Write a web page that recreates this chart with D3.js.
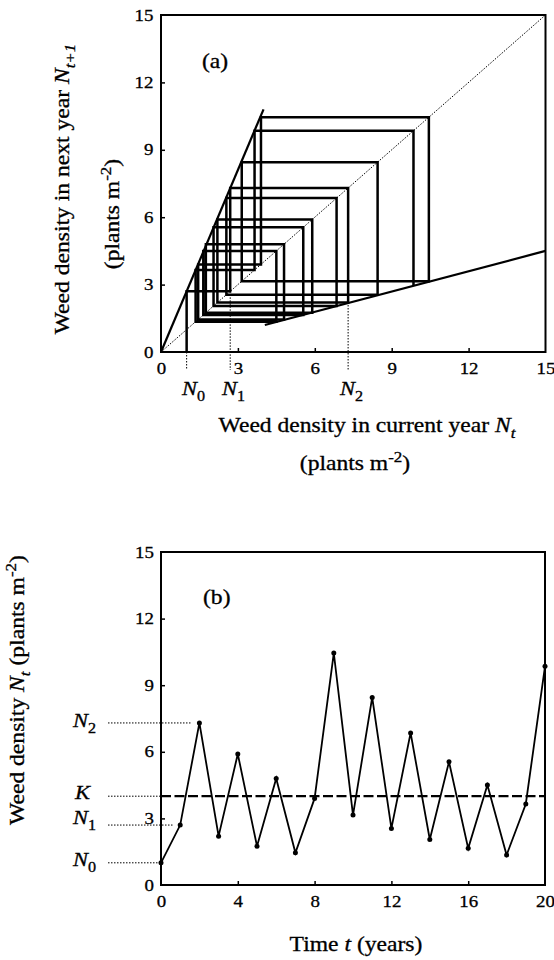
<!DOCTYPE html>
<html>
<head>
<meta charset="utf-8">
<script src="https://cdn.jsdelivr.net/npm/d3@7"></script>
<style>
  body { margin: 0; background: #fff; }
  text { font-family: "Liberation Serif", "Times New Roman", serif; fill: #000; stroke: #000; stroke-width: 0.3px; }
</style>
</head>
<body>
<div id="chart"></div>
<script>
// weed density series
const years = [0, 1, 2, 3, 4, 5, 6, 7, 8, 9, 10, 11, 12, 13, 14, 15, 16, 17, 18, 19, 20]
const density = [1.0, 2.7, 7.3, 2.2, 5.9, 1.75, 4.8, 1.45, 3.9, 10.45, 3.15, 8.45, 2.55, 6.85, 2.05, 5.55, 1.65, 4.5, 1.35, 3.65, 9.85]
const lastNext = 2.96          // where the cobweb drops after year 20
const carryingK = 4
// the two branches of the map N(t) -> N(t+1)
const leftBranch = [[0, 0], [4.0, 10.8]]
const rightBranch = [[4.05, 1.2], [15, 4.5]]
const ticksA = [0, 3, 6, 9, 12, 15]
const ticksBX = [0, 4, 8, 12, 16, 20]
const ticksBY = [0, 3, 6, 9, 12, 15]

const W = 554, H = 960
const SX = 1.18   // the scanned type is wider than Times

const svg = d3.select('#chart').append('svg')
    .attr('width', W)
    .attr('height', H)

// text with sub/superscripts, stretched a bit horizontally
function label(x, y, parts, opt = {}) {
  const size = opt.size || 20
  let tr = `translate(${x},${y})`
  if (opt.rotate) tr += ` rotate(${opt.rotate})`
  tr += ` scale(${SX},1)`
  const t = svg.append('text')
      .attr('transform', tr)
      .attr('font-size', size)
      .attr('text-anchor', opt.anchor || 'start')
  let shift = 0
  parts.forEach(p => {
    const s = t.append('tspan').text(p.t)
    if (p.it) s.attr('font-style', 'italic')
    let want = 0
    if (p.sub) want = size * 0.3
    if (p.sup) want = -size * 0.42
    if (p.sub || p.sup) s.attr('font-size', size * 0.72)
    if (want !== shift) { s.attr('dy', want - shift); shift = want }
  })
  return t
}

function styleAxis(g) {
  g.select('.domain').remove()
  g.selectAll('.tick line').attr('stroke', '#000').attr('stroke-width', 1.5)
  g.selectAll('.tick text')
      .attr('font-size', 16)
      .attr('font-family', '"Liberation Serif", "Times New Roman", serif')
      .attr('transform', `scale(${SX},1)`)
}

// ---------- panel (a) ----------
const xA = d3.scaleLinear().domain([0, 15]).range([161, 545.5])
const yA = d3.scaleLinear().domain([0, 15]).range([352, 15])

const gA = svg.append('g')

gA.append('g')
    .attr('transform', `translate(0,${yA(0)})`)
    .call(d3.axisBottom(xA).tickValues(ticksA).tickSizeInner(-4).tickSizeOuter(0).tickPadding(10.5))
    .call(styleAxis)
gA.append('g')
    .attr('transform', `translate(${xA(0)},0)`)
    .call(d3.axisLeft(yA).tickValues(ticksA).tickSizeInner(-4).tickSizeOuter(0).tickPadding(6.5))
    .call(styleAxis)
// no tick marks on the frame corners
gA.selectAll('.tick').filter(d => d === 0 || d === 15).select('line').remove()

const lineA = d3.line().x(d => xA(d[0])).y(d => yA(d[1]))

// diagonal N(t+1) = N(t)
gA.append('path')
    .attr('d', lineA([[0, 0], [15, 15]]))
    .attr('fill', 'none')
    .attr('stroke', '#000')
    .attr('stroke-width', 1)
    .attr('stroke-dasharray', '1.5,1.5')

// guides down to N0, N1, N2
const guideTop = [[density[0], 0], [density[1], density[1]], [density[2], density[2]]]
guideTop.forEach(d => {
  gA.append('line')
      .attr('x1', xA(d[0])).attr('x2', xA(d[0]))
      .attr('y1', yA(d[1])).attr('y2', 370)
      .attr('stroke', '#000')
      .attr('stroke-width', 1)
      .attr('stroke-dasharray', '1.5,1.5')
})

// cobweb
const cob = [[density[0], 0]]
for (let i = 0; i < density.length - 1; i++) {
  cob.push([density[i], density[i + 1]])
  cob.push([density[i + 1], density[i + 1]])
}
cob.push([density[density.length - 1], lastNext])
gA.append('path')
    .attr('d', lineA(cob))
    .attr('fill', 'none')
    .attr('stroke', '#000')
    .attr('stroke-width', 2.5)
    .attr('stroke-linejoin', 'miter')

// map branches
;[leftBranch, rightBranch].forEach(b => {
  gA.append('path')
      .attr('d', lineA(b))
      .attr('fill', 'none')
      .attr('stroke', '#000')
      .attr('stroke-width', 2.2)
})

gA.append('rect')
    .attr('x', xA(0)).attr('y', yA(15))
    .attr('width', xA(15) - xA(0)).attr('height', yA(0) - yA(15))
    .attr('fill', 'none')
    .attr('stroke', '#000')
    .attr('stroke-width', 2)

label(202, 68, [{ t: '(a)' }])
label(182, 395, [{ t: 'N', it: true }, { t: '0', sub: true }], { size: 19 })
label(222, 395, [{ t: 'N', it: true }, { t: '1', sub: true }], { size: 19 })
label(340, 395, [{ t: 'N', it: true }, { t: '2', sub: true }], { size: 19 })
label(367, 432, [{ t: 'Weed density in current year ' }, { t: 'N', it: true }, { t: 't', it: true, sub: true }], { anchor: 'middle' })
label(355, 470, [{ t: '(plants m' }, { t: '-2', sup: true }, { t: ')' }], { anchor: 'middle' })
label(69, 189, [{ t: 'Weed density in next year ' }, { t: 'N', it: true }, { t: 't+1', it: true, sub: true }], { anchor: 'middle', rotate: -90 })
label(119, 214, [{ t: '(plants m' }, { t: '-2', sup: true }, { t: ')' }], { anchor: 'middle', rotate: -90 })

// ---------- panel (b) ----------
const xB = d3.scaleLinear().domain([0, 20]).range([161, 545])
const yB = d3.scaleLinear().domain([0, 15]).range([885, 552])

const gB = svg.append('g')
gB.append('g')
    .attr('transform', `translate(0,${yB(0)})`)
    .call(d3.axisBottom(xB).tickValues(ticksBX).tickSizeInner(-4).tickSizeOuter(0).tickPadding(10.5))
    .call(styleAxis)
gB.append('g')
    .attr('transform', `translate(${xB(0)},0)`)
    .call(d3.axisLeft(yB).tickValues(ticksBY).tickSizeInner(-4).tickSizeOuter(0).tickPadding(6))
    .call(styleAxis)
gB.selectAll('.tick').filter(d => d === 0 || d === 15 || d === 20).select('line').remove()

// dotted guides from the left labels
const guideLeft = [
  { v: density[2], end: xB(years[2]) - 8 },
  { v: carryingK, end: xB(0) },
  { v: density[1], end: xB(years[1]) - 7 },
  { v: density[0], end: xB(0) - 3 }
]
guideLeft.forEach(d => {
  gB.append('line')
      .attr('x1', 108).attr('x2', d.end)
      .attr('y1', yB(d.v)).attr('y2', yB(d.v))
      .attr('stroke', '#000')
      .attr('stroke-width', 1)
      .attr('stroke-dasharray', '1.5,1.5')
})

// carrying capacity K
gB.append('line')
    .attr('x1', xB(0)).attr('x2', xB(20))
    .attr('y1', yB(carryingK)).attr('y2', yB(carryingK))
    .attr('stroke', '#000')
    .attr('stroke-width', 2.2)
    .attr('stroke-dasharray', '10,3.5')

const lineB = d3.line().x((d, i) => xB(years[i])).y(d => yB(d))
gB.append('path')
    .attr('d', lineB(density))
    .attr('fill', 'none')
    .attr('stroke', '#000')
    .attr('stroke-width', 1.8)

gB.selectAll('circle')
  .data(density)
  .join('circle')
    .attr('cx', (d, i) => xB(years[i]))
    .attr('cy', d => yB(d))
    .attr('r', 2.5)
    .attr('fill', '#000')

gB.append('rect')
    .attr('x', xB(0)).attr('y', yB(15))
    .attr('width', xB(20) - xB(0)).attr('height', yB(0) - yB(15))
    .attr('fill', 'none')
    .attr('stroke', '#000')
    .attr('stroke-width', 2)

label(203, 604, [{ t: '(b)' }])
label(73, yB(density[2]) + 4, [{ t: 'N', it: true }, { t: '2', sub: true }], { size: 19 })
label(75, yB(carryingK) + 3, [{ t: 'K', it: true }], { size: 19 })
label(73, yB(density[1]) - 1, [{ t: 'N', it: true }, { t: '1', sub: true }], { size: 19 })
label(73, yB(density[0]) + 3, [{ t: 'N', it: true }, { t: '0', sub: true }], { size: 19 })
label(356, 951, [{ t: 'Time ' }, { t: 't', it: true }, { t: ' (years)' }], { anchor: 'middle' })
label(24, 690, [{ t: 'Weed density ' }, { t: 'N', it: true }, { t: 't', it: true, sub: true }, { t: ' (plants m' }, { t: '-2', sup: true }, { t: ')' }], { anchor: 'middle', rotate: -90 })
</script>
</body>
</html>
